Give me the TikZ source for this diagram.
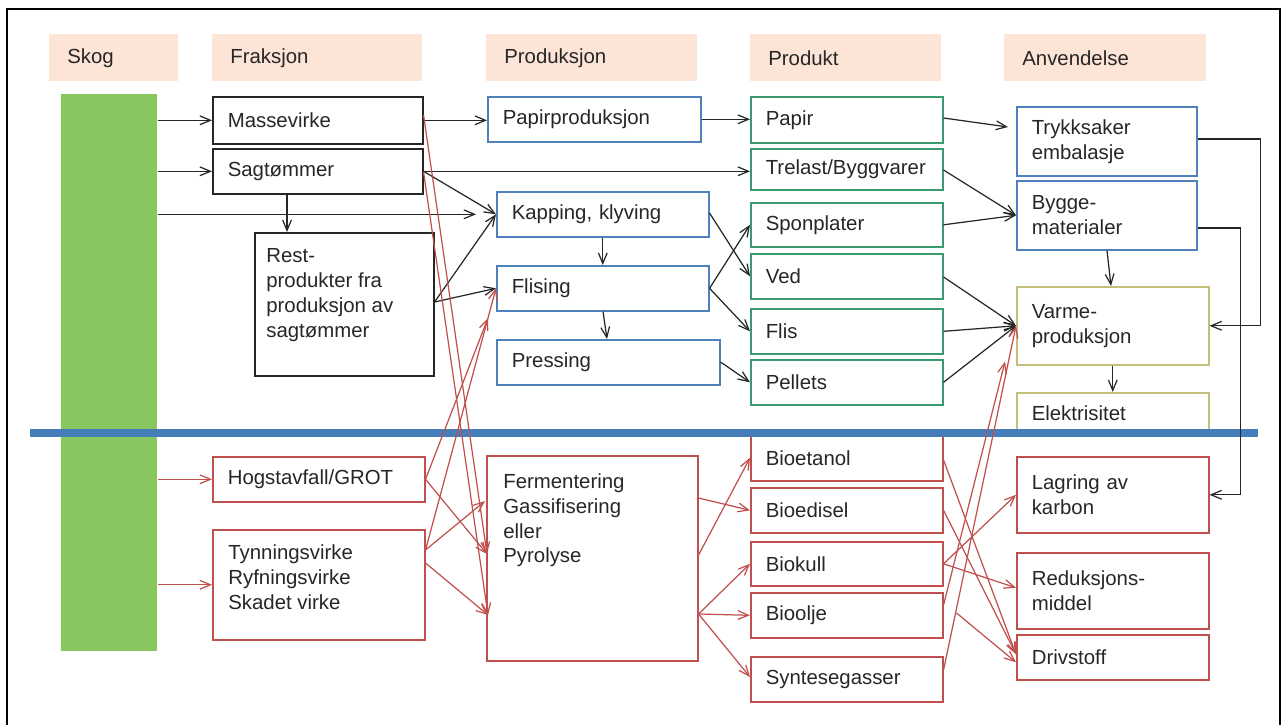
\documentclass[tikz,border=0pt]{standalone}
\usepackage{fontspec}
\setmainfont{Liberation Sans}
\usepackage{xcolor}
\usepackage{tikz}
\usetikzlibrary{arrows.meta, positioning, calc}

\definecolor{peach}{RGB}{252,228,214}
\definecolor{barg}{RGB}{136,198,96}
\definecolor{lineb}{RGB}{70,126,186}
\definecolor{boxb}{RGB}{79,129,189}
\definecolor{boxg}{RGB}{58,154,112}
\definecolor{boxo}{RGB}{196,190,124}
\definecolor{boxr}{RGB}{192,80,77}
\definecolor{ink}{RGB}{38,38,38}

\begin{document}
\begin{tikzpicture}[
      x=0.02cm, y=-0.02cm,
      every node/.style={font=\fontsize{11.6}{14.2}\selectfont, text=ink},
      head/.style={fill=peach, anchor=north west, minimum height=0.94cm, inner xsep=0.36cm, inner ysep=0pt, align=left},
      box/.style={draw=#1, line width=0.9pt, anchor=north west, inner xsep=0.3cm, inner ysep=0pt, align=left},
      txt/.style={anchor=north west, inner sep=0pt, align=left},
      arr/.style={draw=ink, line width=0.7pt, -{Straight Barb[length=6pt,width=5pt]}},
      rarr/.style={arr, draw=boxr}
    ]
  \useasboundingbox (0,0) rectangle (1285,725);
  \draw[line width=1.2pt] (7,725) -- (7,9) -- (1280,9) -- (1280,725);

  % headers
  \node[head, text width=1.86cm] (hskog) at (49,34) {Skog};
  \node[head, text width=3.48cm] (hfrak) at (212,34) {Fraksjon};
  \node[head, text width=3.50cm] (hprod) at (486,34) {Produksjon};
  \node[head, text width=3.10cm] (hpkt) at (750,34) {Produkt};
  \node[head, text width=3.32cm] (hanv) at (1004,34) {Anvendelse};

  \node[fill=barg, anchor=north west, minimum width=1.92cm, minimum height=11.14cm, inner sep=0pt] (bar) at (61,94) {};

  % fraksjon
  \node[box=ink, text width=3.6cm, minimum height=0.94cm] (mass) at (212,96) {Massevirke};
  \node[box=ink, text width=3.6cm, minimum height=0.9cm] (sag) at (212,148) {Sagtømmer};
  \node[box=ink, text width=2.98cm, minimum height=2.86cm] (rest) at (254,232) {};
  \node[txt] (resttxt) at (266,248) {Rest-\\produkter fra\\produksjon av\\sagtømmer};
  \node[box=boxr, text width=3.64cm, minimum height=0.9cm] (hogst) at (212,456) {Hogstavfall/GROT};
  \node[box=boxr, text width=3.64cm, minimum height=2.2cm] (tynn) at (212,529) {};
  \node[txt] (tynntxt) at (228,544) {Tynningsvirke\\Ryfningsvirke\\Skadet virke};

  % produksjon
  \node[box=boxb, text width=3.66cm, minimum height=0.9cm] (ppap) at (487,96) {Papirproduksjon};
  \node[box=boxb, text width=3.64cm, minimum height=0.9cm] (kap) at (496,191) {Kapping, klyving};
  \node[box=boxb, text width=3.64cm, minimum height=0.9cm] (flising) at (496,265) {Flising};
  \node[box=boxb, text width=3.86cm, minimum height=0.9cm] (press) at (496,339) {Pressing};
  \node[box=boxr, text width=3.62cm, minimum height=4.1cm] (ferm) at (486,455) {};
  \node[txt] (fermtxt) at (503,473) {Fermentering\\Gassifisering\\eller\\Pyrolyse};

  % produkt
  \node[box=boxg, text width=3.24cm, minimum height=0.92cm] (papir) at (750,96) {Papir};
  \node[box=boxg, text width=3.24cm, minimum height=0.82cm] (trel) at (750,148) {Trelast/Byggvarer};
  \node[box=boxg, text width=3.24cm, minimum height=0.88cm] (spon) at (750,202) {Sponplater};
  \node[box=boxg, text width=3.24cm, minimum height=0.9cm] (ved) at (750,253) {Ved};
  \node[box=boxg, text width=3.24cm, minimum height=0.9cm] (flis) at (750,308) {Flis};
  \node[box=boxg, text width=3.24cm, minimum height=0.9cm] (pellets) at (750,359) {Pellets};
  \node[box=boxr, text width=3.24cm, minimum height=0.92cm] (bioet) at (750,434) {Bioetanol};
  \node[box=boxr, text width=3.24cm, minimum height=0.9cm] (biodi) at (750,487) {Bioedisel};
  \node[box=boxr, text width=3.24cm, minimum height=0.88cm] (biok) at (750,541) {Biokull};
  \node[box=boxr, text width=3.24cm, minimum height=0.9cm] (bioolje) at (750,592) {Bioolje};
  \node[box=boxr, text width=3.24cm, minimum height=0.9cm] (syn) at (750,656) {Syntesegasser};

  % anvendelse
  \node[box=boxb, text width=3.0cm, minimum height=1.38cm] (trykk) at (1016,106) {Trykksaker\\embalasje};
  \node[box=boxb, text width=3.0cm, minimum height=1.38cm] (bygge) at (1016,180) {Bygge-\\materialer};
  \node[box=boxo, text width=3.24cm, minimum height=1.56cm] (varme) at (1016,286) {Varme-\\produksjon};
  \node[box=boxo, text width=3.24cm, minimum height=0.82cm] (elek) at (1016,392) {Elektrisitet};
  \node[box=boxr, text width=3.24cm, minimum height=1.52cm] (lagr) at (1016,456) {Lagring av\\karbon};
  \node[box=boxr, text width=3.24cm, minimum height=1.52cm] (reduk) at (1016,552) {Reduksjons-\\middel};
  \node[box=boxr, text width=3.24cm, minimum height=0.9cm] (driv) at (1016,634) {Drivstoff};

  \draw[lineb, line width=4pt] (30,433) -- (1258,433);

  % black flows
  \draw[arr] (bar.east |- mass.west) -- (mass.west);
  \draw[arr] (bar.east |- sag.west) -- (sag.west);
  \draw[arr] (bar.east |- kap.west) -- ($(kap.west)+(-20,0)$);
  \draw[arr] (mass.east) -- (mass.east -| ppap.west);
  \draw[arr] (ppap.east) -- (ppap.east -| papir.west);
  \draw[arr] (sag.east) -- (sag.east -| trel.west);
  \draw[arr] (sag.east) -- (kap.west);
  \draw[arr] ($(sag.south west)+(75,0)$) -- ($(rest.north west)+(33,0)$);
  \coordinate (rj) at ($(rest.north east)+(0,70)$);
  \draw[arr] (rj) -- (kap.west);
  \draw[arr] (rj) -- (flising.west);
  \draw[arr] (kap.south) -- (kap.south |- flising.north);
  \draw[arr] ($(flising.south west)+(107,0)$) -- ($(press.north west)+(111,0)$);
  \draw[arr] ($(kap.north east)+(0,22)$) -- (ved.west);
  \draw[arr] (flising.east) -- (spon.west);
  \draw[arr] (flising.east) -- (flis.west);
  \draw[arr] ($(press.north east)+(0,23)$) -- (pellets.west);
  \draw[arr] ($(papir.north east)+(0,22)$) -- ($(trykk.north west)+(-8,21)$);
  \draw[arr] ($(trel.north east)+(0,22)$) -- (bygge.west);
  \draw[arr] (spon.east) -- (bygge.west);
  \draw[arr] ($(bygge.south west)+(91,0)$) -- ($(varme.north west)+(95,0)$);
  \draw[arr] ($(ved.north east)+(0,24)$) -- (varme.west);
  \draw[arr] (flis.east) -- (varme.west);
  \draw[arr] (pellets.east) -- (varme.west);
  \draw[arr] (varme.south) -- (varme.south |- elek.north);
  \draw[arr] ($(trykk.north east)+(0,33)$) -- ++(63,0) |- (varme.east);
  \draw[arr] ($(bygge.north east)+(0,48)$) -- ++(43,0) |- (lagr.east);

  % red flows
  \coordinate (fa) at ($(ferm.north west)+(1,99)$);
  \coordinate (fb) at ($(ferm.north west)+(2,160)$);
  \coordinate (fo) at ($(ferm.north east)+(0,159)$);
  \draw[rarr] (bar.east |- hogst.west) -- (hogst.west);
  \draw[rarr] (bar.east |- tynn.west) -- (tynn.west);
  \draw[rarr] ($(mass.north east)+(0,19)$) -- (fa);
  \draw[rarr] ($(sag.north east)+(0,24)$) -- (fb);
  \draw[rarr] (hogst.east) -- (fa);
  \draw[rarr] (hogst.east) -- ($(press.north west)+(-8,-21)$);
  \draw[rarr] ($(tynn.north east)+(0,21)$) -- (flising.west);
  \draw[rarr] ($(tynn.north east)+(0,21)$) -- ($(ferm.north west)+(-1,46)$);
  \draw[rarr] ($(tynn.north east)+(0,34)$) -- (fb);
  \draw[rarr] ($(ferm.north east)+(0,100)$) -- (bioet.west);
  \draw[rarr] ($(ferm.north east)+(0,43)$) -- (biodi.west);
  \draw[rarr] (fo) -- (biok.west);
  \draw[rarr] (fo) -- (bioolje.west);
  \draw[rarr] (fo) -- ($(syn.north west)+(0,21)$);
  \draw[rarr] ($(bioet.north east)+(0,26)$) -- ($(driv.west)+(0,-3)$);
  \draw[rarr] (biodi.east) -- ($(driv.west)+(0,-3)$);
  \draw[rarr] (biok.east) -- (lagr.west);
  \draw[rarr] (biok.east) -- ($(reduk.west)+(0,-3)$);
  \draw[rarr] ($(bioolje.north east)+(13,21)$) -- ($(driv.west)+(0,5)$);
  \draw[rarr] ($(bioolje.north east)+(0,13)$) -- ($(varme.south west)+(-11,-4)$);
  \draw[rarr] ($(syn.north east)+(0,14)$) -- (varme.west);
\end{tikzpicture}
\end{document}
